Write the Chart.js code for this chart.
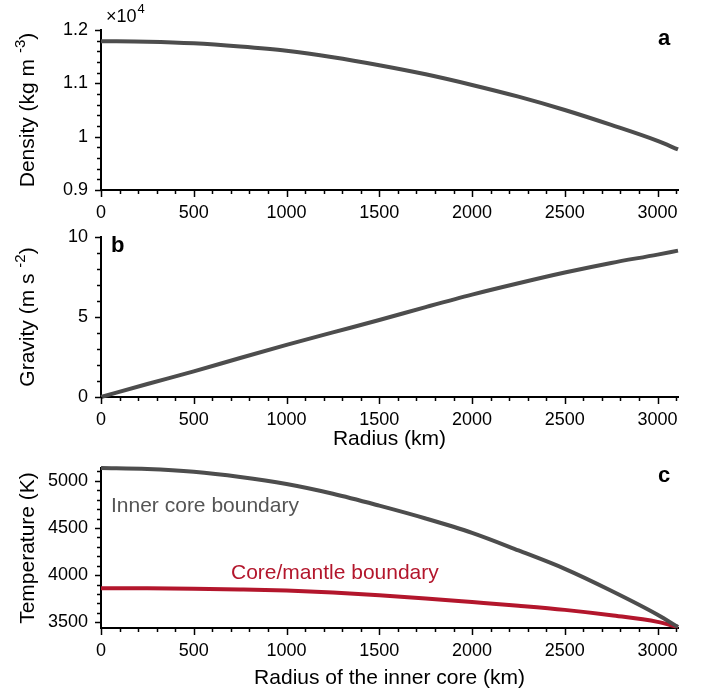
<!DOCTYPE html>
<html>
<head>
<meta charset="utf-8">
<script src="https://cdn.jsdelivr.net/npm/chart.js@4.4.0/dist/chart.umd.min.js"></script>
<style>
  html, body { margin: 0; padding: 0; background: #fff; }
  #wrap { position: relative; width: 703px; height: 693px; }
  #wrap canvas { position: absolute; left: 0; top: 0; }
</style>
</head>
<body>
<div id="wrap">
  <canvas id="densityChart" width="703" height="693"></canvas>
  <canvas id="gravityChart" width="703" height="693"></canvas>
  <canvas id="tempChart" width="703" height="693"></canvas>
</div>
<script>
// ===== 数据 =====
const radius = [0, 250, 500, 750, 1000, 1250, 1500, 1750, 2000, 2250, 2500, 2750, 3000, 3110];

// 密度 kg m^-3
const density = [11790, 11780, 11750, 11690, 11610, 11490, 11340, 11170, 10970, 10750, 10500, 10220, 9920, 9760];

// 重力 m s^-2
const gravity = [0, 0.81, 1.60, 2.44, 3.26, 4.04, 4.81, 5.62, 6.40, 7.11, 7.78, 8.38, 8.90, 9.15];

// 温度 K
const tempInner = [5134, 5124, 5095, 5040, 4965, 4862, 4736, 4600, 4448, 4262, 4067, 3835, 3581, 3450];
const tempCmb   = [3862, 3861, 3856, 3848, 3836, 3815, 3787, 3753, 3715, 3676, 3632, 3575, 3505, 3450];

// 刻度
const xTicks = [0, 500, 1000, 1500, 2000, 2500, 3000];
const densityTicks = [9000, 10000, 11000, 12000];
const gravityTicks = [0, 5, 10];
const tempTicks = [3500, 4000, 4500, 5000];

const FONT = "'Liberation Sans', Arial, Helvetica, sans-serif";
const GREY = '#4d4d4d';
const RED = '#b3162c';

function pairs(ys) {
    return radius.map((r, i) => ({ x: r, y: ys[i] }));
}

// ===== 坐标轴刻度、标题、标注 =====
const axisDecor = {
    id: 'axisDecor',
    afterDraw(chart, args, o) {
        const ctx = chart.ctx;
        const xs = chart.scales.x, ys = chart.scales.y;
        const area = chart.chartArea;
        ctx.save();
        ctx.strokeStyle = '#000';
        ctx.lineWidth = 1.5;

        // x 轴刻度
        for (let k = Math.ceil(xs.min / o.xMinor); k * o.xMinor <= xs.max + 1e-6; k++) {
            const v = k * o.xMinor;
            const major = Math.abs(v / o.xMajor - Math.round(v / o.xMajor)) < 1e-6;
            const px = Math.round(xs.getPixelForValue(v)) + 0.5;
            ctx.beginPath();
            ctx.moveTo(px, area.bottom);
            ctx.lineTo(px, area.bottom + (major ? 7 : 4));
            ctx.stroke();
        }
        // y 轴刻度
        for (let k = Math.ceil(ys.min / o.yMinor - 1e-6); k * o.yMinor <= ys.max + 1e-6; k++) {
            const v = k * o.yMinor;
            const major = Math.abs(v / o.yMajor - Math.round(v / o.yMajor)) < 1e-6;
            const py = Math.round(ys.getPixelForValue(v)) + 0.5;
            ctx.beginPath();
            ctx.moveTo(area.left, py);
            ctx.lineTo(area.left - (major ? 6 : 4), py);
            ctx.stroke();
        }

        // y 轴标题（带上标）
        ctx.fillStyle = '#000';
        ctx.save();
        ctx.translate(34, (area.top + area.bottom) / 2);
        ctx.rotate(-Math.PI / 2);
        ctx.font = '21px ' + FONT;
        const w1 = ctx.measureText(o.yTitle[0]).width;
        ctx.font = '15px ' + FONT;
        const w2 = o.yTitle[1] ? ctx.measureText(o.yTitle[1]).width : 0;
        ctx.font = '21px ' + FONT;
        const w3 = o.yTitle[2] ? ctx.measureText(o.yTitle[2]).width : 0;
        let sx = -(w1 + w2 + w3) / 2;
        ctx.textBaseline = 'alphabetic';
        ctx.textAlign = 'left';
        ctx.fillText(o.yTitle[0], sx, 0);
        if (o.yTitle[1]) {
            ctx.font = '15px ' + FONT;
            ctx.fillText(o.yTitle[1], sx + w1, -9);
            ctx.font = '21px ' + FONT;
            ctx.fillText(o.yTitle[2], sx + w1 + w2, 0);
        }
        ctx.restore();

        // x 轴标题
        if (o.xTitle) {
            ctx.font = '21px ' + FONT;
            ctx.textAlign = 'center';
            ctx.textBaseline = 'alphabetic';
            ctx.fillText(o.xTitle.text, (area.left + area.right) / 2, o.xTitle.y);
        }

        // 面板字母
        ctx.font = 'bold 22px ' + FONT;
        ctx.textAlign = 'left';
        ctx.textBaseline = 'alphabetic';
        ctx.fillText(o.letter.text, o.letter.x, o.letter.y);

        // 其他文字标注
        (o.notes || []).forEach(n => {
            ctx.font = (n.size || 21) + 'px ' + FONT;
            ctx.fillStyle = n.color || '#000';
            ctx.textAlign = 'left';
            ctx.fillText(n.text, n.x, n.y);
            if (n.sup) {
                const w = ctx.measureText(n.text).width;
                ctx.font = '13px ' + FONT;
                ctx.fillText(n.sup, n.x + w + 1, n.y - 9);
            }
        });
        ctx.restore();
    }
};

function makeChart(id, cfg) {
    const ctx = document.getElementById(id).getContext('2d');
    return new Chart(ctx, {
        type: 'line',
        data: { datasets: cfg.datasets },
        options: {
            responsive: false,
            animation: false,
            events: [],
            layout: { padding: { top: cfg.top, right: 25, left: 0, bottom: 693 - cfg.bottom - 40 } },
            elements: { point: { radius: 0 }, line: { borderWidth: 4, cubicInterpolationMode: 'monotone' } },
            plugins: {
                legend: { display: false },
                tooltip: { enabled: false },
                axisDecor: cfg.decor
            },
            scales: {
                x: {
                    type: 'linear',
                    min: 0,
                    max: 3110,
                    afterBuildTicks: s => { s.ticks = xTicks.map(v => ({ value: v })); },
                    afterFit: s => { s.height = 40; s.paddingLeft = 0; s.paddingRight = 0; },
                    border: { display: true, color: '#000', width: 2 },
                    grid: { display: false, drawTicks: false },
                    ticks: {
                        autoSkip: false,
                        maxRotation: 0,
                        padding: 12,
                        color: '#000',
                        font: { family: FONT, size: 18 },
                        callback: v => String(v)
                    }
                },
                y: {
                    type: 'linear',
                    min: cfg.yMin,
                    max: cfg.yMax,
                    afterBuildTicks: s => { s.ticks = cfg.yTicks.map(v => ({ value: v })); },
                    afterFit: s => { s.width = 101; },
                    border: { display: true, color: '#000', width: 2 },
                    grid: { display: false, drawTicks: false },
                    ticks: {
                        autoSkip: false,
                        padding: 13,
                        color: '#000',
                        font: { family: FONT, size: 18 },
                        callback: cfg.yLabel
                    }
                }
            }
        },
        plugins: [axisDecor]
    });
}

// ===== a：密度 =====
makeChart('densityChart', {
    top: 30, bottom: 190,
    yMin: 9000, yMax: 12000, yTicks: densityTicks,
    yLabel: v => String(Math.round(v / 1000) / 10),
    datasets: [{ data: pairs(density), borderColor: GREY, clip: false }],
    decor: {
        xMinor: 100, xMajor: 500, yMinor: 200, yMajor: 1000,
        yTitle: ['Density (kg m ', '-3', ')'],
        letter: { text: 'a', x: 658, y: 45 },
        notes: [{ text: '\u00d710', x: 106, y: 22, size: 18, sup: '4' }]
    }
});

// ===== b：重力 =====
makeChart('gravityChart', {
    top: 237, bottom: 397,
    yMin: 0, yMax: 10, yTicks: gravityTicks,
    yLabel: v => String(v),
    datasets: [{ data: pairs(gravity), borderColor: GREY, clip: false }],
    decor: {
        xMinor: 100, xMajor: 500, yMinor: 1, yMajor: 5,
        yTitle: ['Gravity (m s ', '-2', ')'],
        xTitle: { text: 'Radius (km)', y: 445 },
        letter: { text: 'b', x: 111, y: 252 }
    }
});

// ===== c：温度 =====
makeChart('tempChart', {
    top: 468, bottom: 628,
    yMin: 3440, yMax: 5135, yTicks: tempTicks,
    yLabel: v => String(v),
    datasets: [
        { data: pairs(tempInner), borderColor: GREY, clip: false },
        { data: pairs(tempCmb), borderColor: RED, clip: false }
    ],
    decor: {
        xMinor: 100, xMajor: 500, yMinor: 100, yMajor: 500,
        yTitle: ['Temperature (K)'],
        xTitle: { text: 'Radius of the inner core (km)', y: 684 },
        letter: { text: 'c', x: 658, y: 482 },
        notes: [
            { text: 'Inner core boundary', x: 111, y: 512, color: '#555555' },
            { text: 'Core/mantle boundary', x: 231, y: 579, color: RED }
        ]
    }
});
</script>
</body>
</html>
